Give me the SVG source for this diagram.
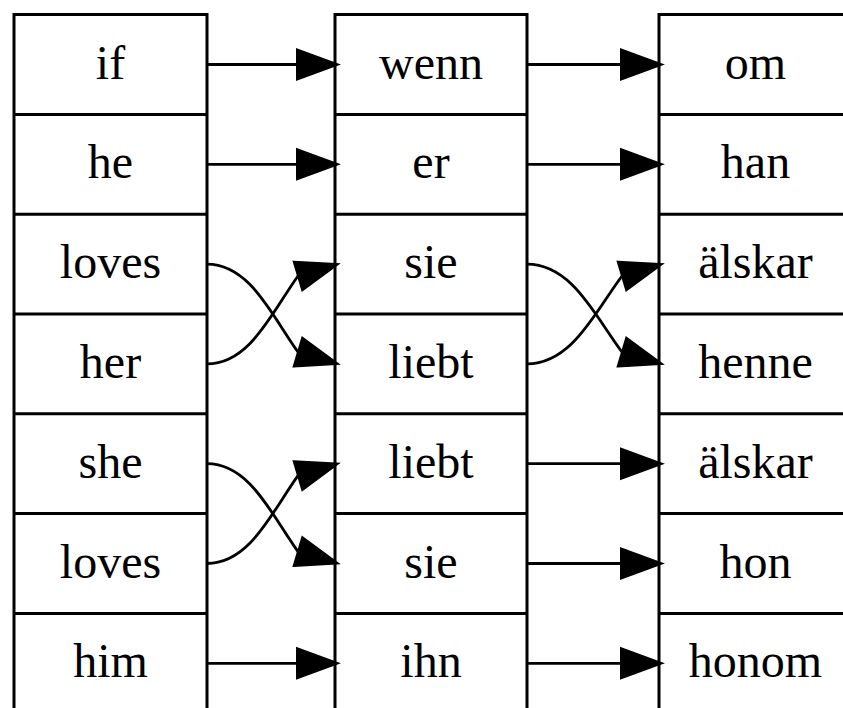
<svg xmlns="http://www.w3.org/2000/svg" width="843" height="708" viewBox="0 0 843 708">
  <style>
    .field { fill: #ffffff; stroke: #000000; stroke-width: 3; }
    .sep { stroke: #000000; stroke-width: 3; }
    .label { font-family: "Liberation Serif", "Times New Roman", serif; font-size: 48px; text-anchor: middle; fill: #000000; }
    .edge { fill: none; stroke: #000000; stroke-width: 2.8; }
    .head { fill: #000000; stroke: #000000; stroke-width: 2; stroke-linejoin: miter; }
  </style>
  <rect width="843" height="708" fill="#ffffff"/>

  <!-- English record -->
  <g id="english">
    <rect class="field" x="14" y="14.5" width="193" height="720"/>
    <line class="sep" x1="14" y1="114.4" x2="207" y2="114.4"/>
    <line class="sep" x1="14" y1="214.2" x2="207" y2="214.2"/>
    <line class="sep" x1="14" y1="314" x2="207" y2="314"/>
    <line class="sep" x1="14" y1="413.8" x2="207" y2="413.8"/>
    <line class="sep" x1="14" y1="513.6" x2="207" y2="513.6"/>
    <line class="sep" x1="14" y1="613.4" x2="207" y2="613.4"/>
    <text class="label" x="110.5" y="78.5">if</text>
    <text class="label" x="110.5" y="178.3">he</text>
    <text class="label" x="110.5" y="278.1">loves</text>
    <text class="label" x="110.5" y="377.9">her</text>
    <text class="label" x="110.5" y="477.7">she</text>
    <text class="label" x="110.5" y="577.5">loves</text>
    <text class="label" x="110.5" y="677.3">him</text>
  </g>

  <!-- German record -->
  <g id="german">
    <rect class="field" x="335" y="14.5" width="192" height="720"/>
    <line class="sep" x1="335" y1="114.4" x2="527" y2="114.4"/>
    <line class="sep" x1="335" y1="214.2" x2="527" y2="214.2"/>
    <line class="sep" x1="335" y1="314" x2="527" y2="314"/>
    <line class="sep" x1="335" y1="413.8" x2="527" y2="413.8"/>
    <line class="sep" x1="335" y1="513.6" x2="527" y2="513.6"/>
    <line class="sep" x1="335" y1="613.4" x2="527" y2="613.4"/>
    <text class="label" x="431" y="78.5">wenn</text>
    <text class="label" x="431" y="178.3">er</text>
    <text class="label" x="431" y="278.1">sie</text>
    <text class="label" x="431" y="377.9">liebt</text>
    <text class="label" x="431" y="477.7">liebt</text>
    <text class="label" x="431" y="577.5">sie</text>
    <text class="label" x="431" y="677.3">ihn</text>
  </g>

  <!-- Swedish record -->
  <g id="swedish">
    <rect class="field" x="659" y="14.5" width="193" height="720"/>
    <line class="sep" x1="659" y1="114.4" x2="852" y2="114.4"/>
    <line class="sep" x1="659" y1="214.2" x2="852" y2="214.2"/>
    <line class="sep" x1="659" y1="314" x2="852" y2="314"/>
    <line class="sep" x1="659" y1="413.8" x2="852" y2="413.8"/>
    <line class="sep" x1="659" y1="513.6" x2="852" y2="513.6"/>
    <line class="sep" x1="659" y1="613.4" x2="852" y2="613.4"/>
    <text class="label" x="755.5" y="78.5">om</text>
    <text class="label" x="755.5" y="178.3">han</text>
    <text class="label" x="755.5" y="278.1">älskar</text>
    <text class="label" x="755.5" y="377.9">henne</text>
    <text class="label" x="755.5" y="477.7">älskar</text>
    <text class="label" x="755.5" y="577.5">hon</text>
    <text class="label" x="755.5" y="677.3">honom</text>
  </g>

  <!-- word alignment edges -->
  <g id="edges">
    <!-- English to German -->
    <path class="edge" d="M207,64.5 H298"/>
    <polygon class="head" points="297,49.5 338,64.5 297,79.5"/>
    <path class="edge" d="M207,164.3 H298"/>
    <polygon class="head" points="297,149.3 338,164.3 297,179.3"/>
    <path class="edge" d="M207,264.1 C250,264.1 272,316 298,352"/>
    <polygon class="head" points="293.7,366.4 338,363.9 302.3,337.6"/>
    <path class="edge" d="M207,363.9 C250,363.9 272,312 298,276"/>
    <polygon class="head" points="293.7,261.7 338,264.1 302.3,290.4"/>
    <path class="edge" d="M207,463.7 C250,463.7 272,515.6 298,551.6"/>
    <polygon class="head" points="293.7,566 338,563.5 302.3,537.2"/>
    <path class="edge" d="M207,563.5 C250,563.5 272,511.6 298,475.6"/>
    <polygon class="head" points="293.7,461.3 338,463.7 302.3,490"/>
    <path class="edge" d="M207,663.3 H298"/>
    <polygon class="head" points="297,648.3 338,663.3 297,678.3"/>

    <!-- German to Swedish -->
    <path class="edge" d="M527,64.5 H622"/>
    <polygon class="head" points="621,49.5 662,64.5 621,79.5"/>
    <path class="edge" d="M527,164.3 H622"/>
    <polygon class="head" points="621,149.3 662,164.3 621,179.3"/>
    <path class="edge" d="M527,264.1 C572,264.1 595,316 622,352"/>
    <polygon class="head" points="617.7,366.4 662,363.9 626.3,337.6"/>
    <path class="edge" d="M527,363.9 C572,363.9 595,312 622,276"/>
    <polygon class="head" points="617.7,261.7 662,264.1 626.3,290.4"/>
    <path class="edge" d="M527,463.7 H622"/>
    <polygon class="head" points="621,448.7 662,463.7 621,478.7"/>
    <path class="edge" d="M527,563.5 H622"/>
    <polygon class="head" points="621,548.5 662,563.5 621,578.5"/>
    <path class="edge" d="M527,663.3 H622"/>
    <polygon class="head" points="621,648.3 662,663.3 621,678.3"/>
  </g>
</svg>
